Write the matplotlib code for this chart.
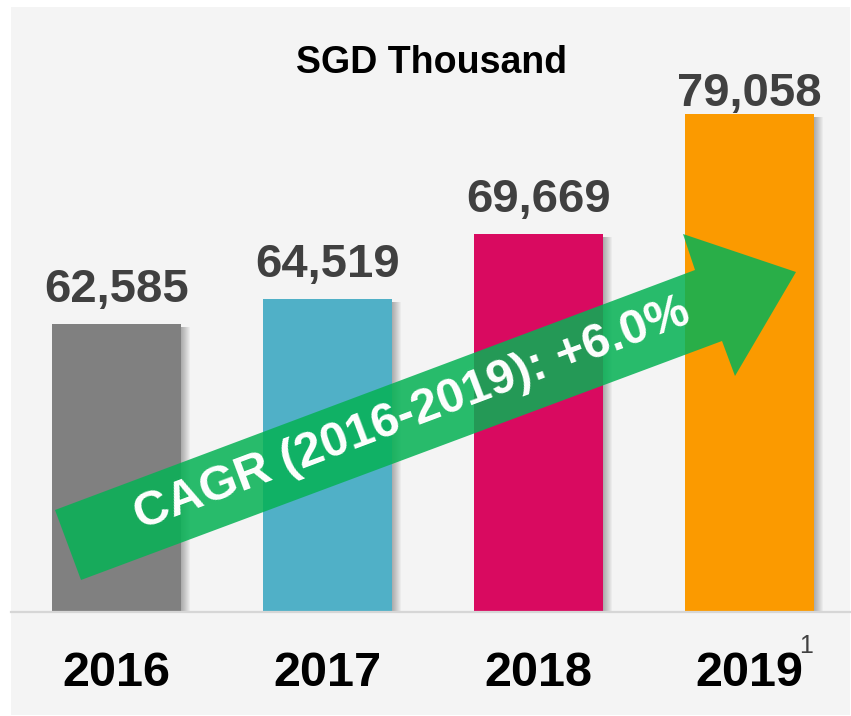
import matplotlib

matplotlib.use("Agg")

import matplotlib.pyplot as plt
from matplotlib.patches import Polygon, Rectangle
from matplotlib.transforms import ScaledTranslation

plt.rcParams["font.family"] = ["Liberation Sans", "DejaVu Sans"]

# data
YEARS = ["2016", "2017", "2018", "2019"]
VALUES = [62585, 64519, 69669, 79058]
BAR_COLOURS = ["#808080", "#50b0c7", "#d90a60", "#fb9a00"]
CAGR_TEXT = "CAGR (2016-2019): +6.0%"
TITLE = "SGD Thousand"
FOOTNOTE = "1"

# the last label is squeezed closer to its bar
LABEL_GAP_PX = [22, 22, 22, 8]

W, H = 851, 716
DPI = 100

fig = plt.figure(figsize=(W / DPI, H / DPI), dpi=DPI, facecolor="white")

# light grey panel behind everything
fig.patches.append(
    Rectangle(
        (11 / W, 1 - 715 / H),
        839 / W,
        708 / H,
        transform=fig.transFigure,
        facecolor="#f4f4f4",
        edgecolor="none",
        zorder=-5,
    )
)

ax = fig.add_axes([11 / W, (H - 612) / H, 839 / W, 605 / H], zorder=1)
ax.set_facecolor("none")
ax.set_xlim(-0.5, 3.476)
ax.set_ylim(40000, 87459)
ax.set_axis_off()

positions = list(range(len(VALUES)))
bar_width = 0.611

# soft drop shadow on the right of each bar
for step in range(1, 10):
    shift = ScaledTranslation(step / DPI, -3 / DPI, fig.dpi_scale_trans)
    ax.bar(
        positions,
        VALUES,
        width=bar_width,
        color="black",
        alpha=0.035,
        linewidth=0,
        transform=ax.transData + shift,
        zorder=1,
    )

ax.bar(positions, VALUES, width=bar_width, color=BAR_COLOURS, linewidth=0, zorder=2)
ax.axhline(40000, color="#d6d6d6", linewidth=1.6, zorder=3, clip_on=False)

for pos, value, gap in zip(positions, VALUES, LABEL_GAP_PX):
    ax.annotate(
        f"{value:,}",
        (pos, value),
        xytext=(0, gap),
        textcoords="offset pixels",
        ha="center",
        va="baseline",
        fontsize=34,
        fontweight="bold",
        color="#404040",
        zorder=4,
    )

for pos, year in zip(positions, YEARS):
    ax.annotate(
        year,
        (pos, 0),
        xycoords=("data", "axes fraction"),
        xytext=(0, -74),
        textcoords="offset pixels",
        ha="center",
        va="baseline",
        fontsize=35,
        fontweight="bold",
        color="black",
        annotation_clip=False,
    )

ax.annotate(
    FOOTNOTE,
    (positions[-1], 0),
    xycoords=("data", "axes fraction"),
    xytext=(57, -41),
    textcoords="offset pixels",
    ha="center",
    va="baseline",
    fontsize=18,
    color="#404040",
    annotation_clip=False,
)

fig.text(431 / W, 1 - 73 / H, TITLE, ha="center", va="baseline", fontsize=27, fontweight="bold")

# growth arrow overlay in image pixel coordinates
deco = fig.add_axes([0, 0, 1, 1], zorder=5)
deco.set_xlim(0, W)
deco.set_ylim(H, 0)
deco.set_axis_off()
deco.patch.set_alpha(0)

arrow_points = [
    (55, 510),
    (695, 270),
    (683, 234),
    (796, 272),
    (735, 376),
    (722, 341),
    (81, 580),
]
deco.add_patch(Polygon(arrow_points, closed=True, facecolor="#06b255", edgecolor="none", alpha=0.86))
deco.text(
    412,
    414,
    CAGR_TEXT,
    rotation=20.6,
    rotation_mode="anchor",
    ha="center",
    va="center",
    fontsize=35,
    fontweight="bold",
    color="white",
)

fig.savefig("out.png", dpi=DPI, facecolor="white")
plt.close(fig)
